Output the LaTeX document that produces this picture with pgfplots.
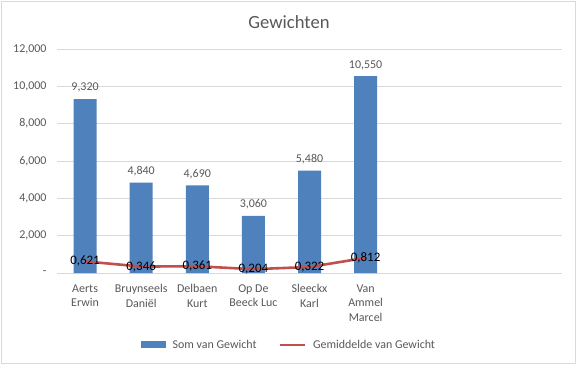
\documentclass[border=0pt]{standalone}
\usepackage{pgfplots}
\pgfplotsset{compat=1.18}
\usepackage{pgfplotstable}
\usepackage{fontspec}
\setmainfont{Carlito}
\definecolor{barblue}{HTML}{4F81BD}
\definecolor{linered}{HTML}{C0504D}
\definecolor{gridgray}{HTML}{D9D9D9}
\definecolor{txtgray}{HTML}{595959}
\definecolor{framegray}{HTML}{D9D9D9}

\pgfplotstableread{
x y label
0 9320 9,320
1 4840 4,840
2 4690 4,690
3 3060 3,060
4 5480 5,480
5 10550 10,550
}\bars
\pgfplotstableread{
x y label
0 621 0,621
1 346 0,346
2 361 0,361
3 204 0,204
4 322 0,322
5 812 0,812
}\avg

\begin{document}
\begin{tikzpicture}[x=1bp,y=1bp]
\fill[white] (0,0) rectangle (577,365);
\draw[framegray, line width=1bp] (1.5,1.5) rectangle (575.5,363.5);
\useasboundingbox (0,0) rectangle (577,365);
\begin{axis}[
  at={(57bp,92bp)}, anchor=south west,
  scale only axis, width=505bp, height=224bp,
  xmin=-0.5, xmax=8.5, ymin=0, ymax=12000,
  clip=false,
  scaled y ticks=false,
  axis line style={draw=none},
  major tick length=0pt,
  ymajorgrids,
  grid style={color=gridgray, line width=0.9bp},
  ytick={0,2000,4000,6000,8000,10000,12000},
  yticklabels={-, {2,000}, {4,000}, {6,000}, {8,000}, {10,000}, {12,000}},
  yticklabel style={font=\fontsize{12}{14}\selectfont, text=txtgray, xshift=-7bp},
  xtick={0,1,2,3,4,5},
  xticklabels={{Aerts\\Erwin},{Bruynseels\\Daniël},{Delbaen\\Kurt},{Op De\\Beeck Luc},{Sleeckx\\Karl},{Van\\Ammel\\Marcel}},
  xticklabel style={font=\fontsize{12}{14.5}\selectfont, text=txtgray, align=center, yshift=-8bp},
  legend columns=2,
  legend style={at={(0.459,-0.321)}, anchor=center, draw=none, fill=none,
    font=\fontsize{12}{14}\selectfont, text=txtgray,
    /tikz/every even column/.style={column sep=20bp},
    /tikz/every odd column/.style={column sep=5bp}},
]
\addplot[ybar, bar width=23bp, bar shift=0pt, fill=barblue, draw=none,
  point meta=explicit symbolic, nodes near coords,
  every node near coord/.append style={font=\fontsize{12}{14}\selectfont, text=txtgray, yshift=3bp},
  legend image code/.code={\fill[barblue] (0bp,-3.5bp) rectangle (25bp,3.5bp);}]
  table[x=x, y=y, meta=label] {\bars};
\addlegendentry{Som van Gewicht}
\addplot[sharp plot, color=linered, line width=2.6bp, mark=none,
  point meta=explicit symbolic, nodes near coords, nodes near coords align=center,
  every node near coord/.append style={font=\fontsize{13}{14}\selectfont, text=black, anchor=center},
  legend image code/.code={\draw[linered, line width=2.6bp] (0bp,0bp) -- (25bp,0bp);}]
  table[x=x, y=y, meta=label] {\avg};
\addlegendentry{Gemiddelde van Gewicht}
\end{axis}
\node[font=\fontsize{18.7}{20}\selectfont, text=txtgray] at (289,343) {Gewichten};
\end{tikzpicture}
\end{document}
